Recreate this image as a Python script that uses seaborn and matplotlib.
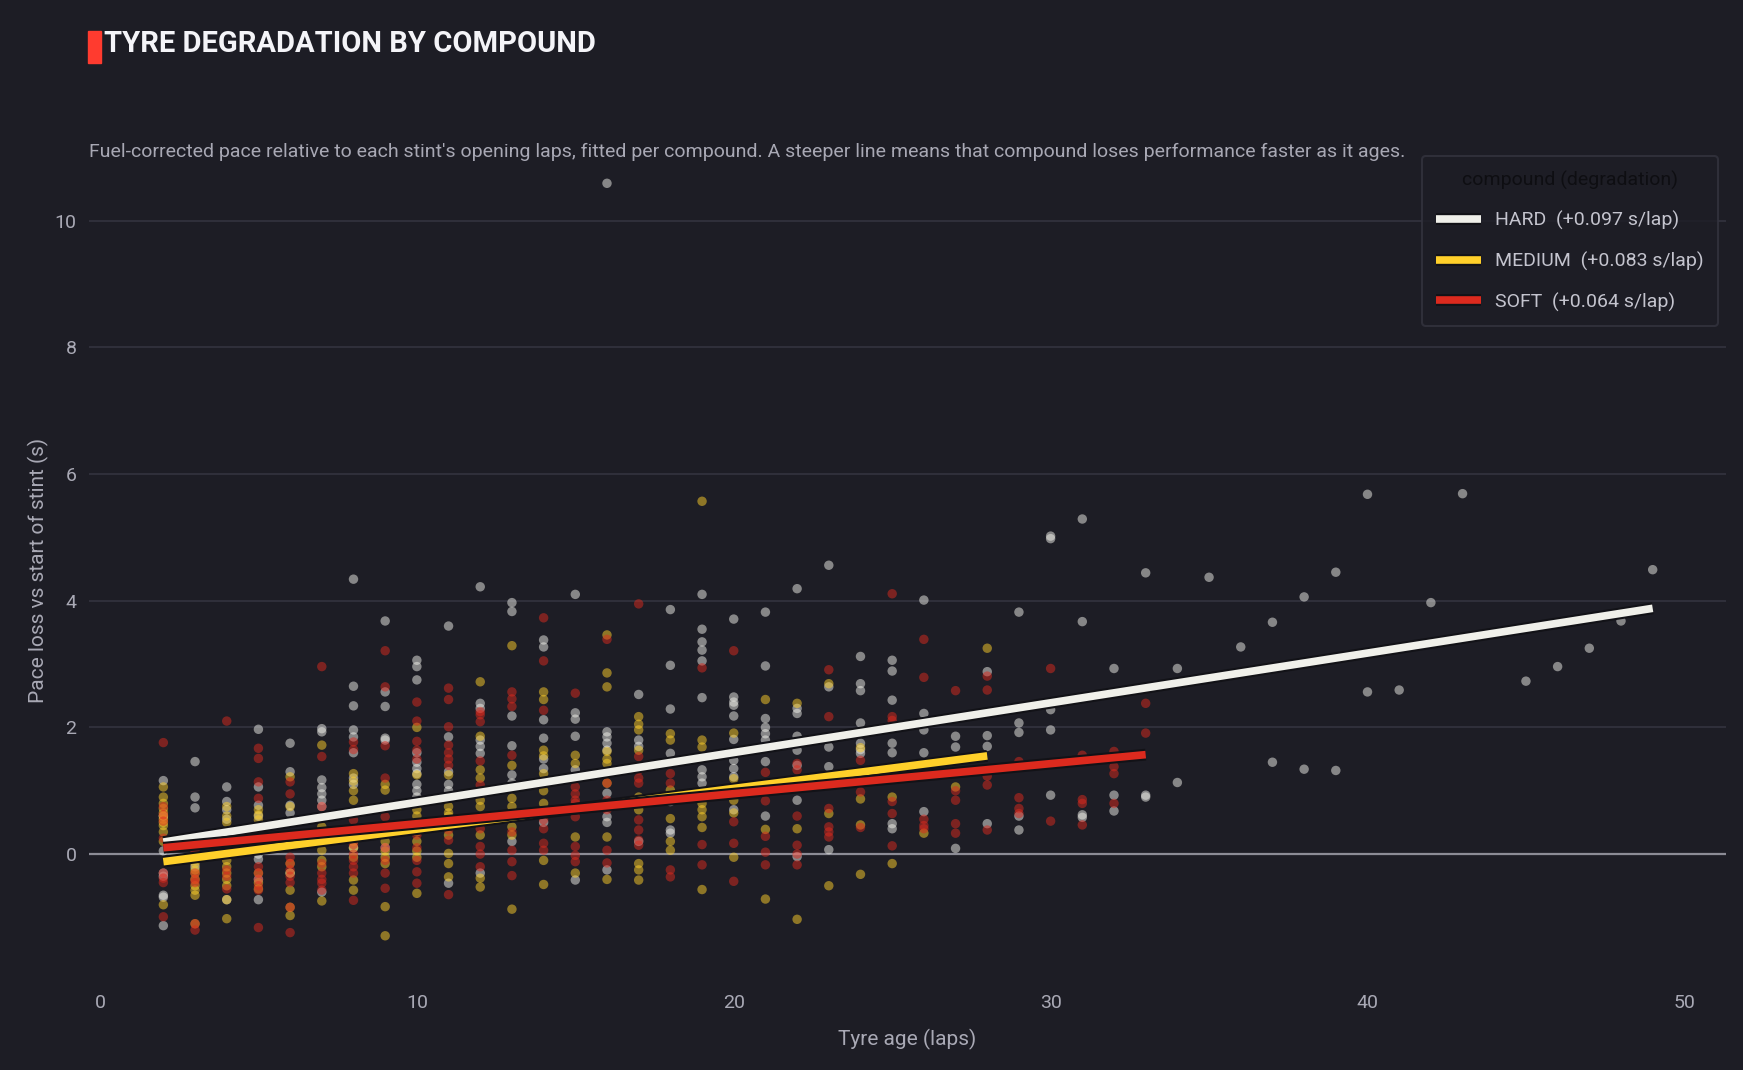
import pandas as pd
import matplotlib.pyplot as plt
import matplotlib.patheffects as pe
from matplotlib.patches import Rectangle
import seaborn as sns

# ---- data ----
compounds = ['HARD', 'MEDIUM', 'SOFT']
slope_labels = ['+0.097 s/lap', '+0.083 s/lap', '+0.064 s/lap']

hard_laps = [2, 3, 4, 5, 6, 7, 8, 9, 10, 11, 12, 13, 14, 15, 16, 17, 18, 19, 20, 21,
             22, 23, 24, 25, 26, 27, 28, 29, 30, 31, 32, 33, 34, 35, 36, 37, 38, 39,
             40, 41, 42, 43, 45, 46, 47, 48, 49]
hard_pace = [
    [1.16, 0.6, 0.05, -0.3, -0.35, -0.65, -0.68, -1.13],
    [1.46, 0.9, 0.73, -0.2],
    [1.06, 0.83, 0.7, 0.55, -0.72],
    [1.97, 1.06, 0.77, 0.6, 0.0, -0.08, -0.4, -0.72],
    [1.75, 1.3, 0.77, 0.65, -0.3],
    [1.98, 1.93, 1.17, 1.05, 0.95, 0.85, 0.75, -0.6],
    [4.34, 2.65, 2.34, 1.96, 1.85, 1.6, 1.2, 1.1, 0.1],
    [3.68, 2.56, 2.33, 1.83, 1.8, 0.1],
    [3.06, 2.96, 2.75, 1.6, 1.45, 1.35, 1.27, 1.1, 1.0, 0.9],
    [3.6, 1.85, 1.3, 1.1, 1.0, -0.46],
    [4.22, 2.38, 2.3, 1.8, 1.7, 1.59, -0.3],
    [3.97, 3.83, 2.18, 1.71, 1.25, 1.12, 0.2],
    [3.38, 3.27, 2.12, 1.83, 1.5, 1.35, 0.5],
    [4.1, 2.23, 2.13, 1.86, 1.33, -0.41],
    [10.59, 1.93, 1.85, 1.75, 1.64, 0.96, 0.59, 0.5, -0.25],
    [2.52, 1.8, 1.7, 0.2],
    [3.86, 2.98, 2.29, 1.59, 0.83, 0.38, 0.33],
    [4.1, 3.55, 3.35, 3.22, 3.05, 2.47, 1.33, 1.22, 1.12],
    [3.71, 2.48, 2.4, 2.35, 2.18, 1.81, 1.48, 1.35, 1.22, 0.7],
    [3.82, 2.97, 2.14, 2.0, 1.9, 1.8, 1.46, 0.6],
    [4.19, 2.3, 2.22, 1.86, 1.64, 1.4, 0.85, -0.04],
    [4.56, 2.64, 1.69, 1.38, 0.07],
    [3.12, 2.69, 2.58, 2.07, 1.75, 1.65, 1.59],
    [3.06, 2.89, 2.43, 1.75, 1.6, 0.48, 0.4],
    [4.01, 2.22, 2.1, 1.96, 1.6, 0.67],
    [1.86, 1.69, 0.09],
    [2.88, 1.87, 1.7, 0.48],
    [3.82, 2.07, 1.92, 0.6, 0.38],
    [5.02, 4.98, 2.28, 1.96, 0.93],
    [5.29, 3.67, 0.62, 0.58],
    [2.93, 0.93, 0.68],
    [4.44, 0.93, 0.9],
    [2.93, 1.13],
    [4.37],
    [3.27],
    [3.66, 1.45],
    [4.06, 1.34],
    [4.45, 1.32],
    [5.68, 2.56],
    [2.59],
    [3.97],
    [5.69],
    [2.73],
    [2.96],
    [3.25],
    [3.68],
    [4.49],
]

medium_laps = list(range(2, 29))
medium_pace = [
    [1.06, 0.9, 0.8, 0.72, 0.65, 0.6, 0.55, 0.5, 0.45, 0.35, 0.2, -0.8],
    [-0.1, -0.15, -0.25, -0.3, -0.4, -0.5, -0.57, -0.65, -1.1],
    [0.75, 0.6, 0.5, -0.1, -0.2, -0.3, -0.4, -0.5, -0.72, -1.02],
    [0.7, 0.62, 0.54, -0.3, -0.45, -0.55],
    [1.22, 0.75, 0.2, -0.15, -0.3, -0.57, -0.84, -0.97],
    [1.72, 0.43, 0.06, -0.1, -0.2, -0.74],
    [1.27, 1.15, 1.0, 0.85, 0.2, 0.1, -0.05, -0.41, -0.57],
    [1.1, 1.01, 0.2, 0.05, -0.05, -0.15, -0.83, -1.29],
    [2.0, 1.25, 0.7, 0.6, 0.35, 0.2, 0.05, -0.05, -0.62],
    [1.25, 0.75, 0.65, 0.6, 0.3, 0.01, -0.15, -0.36],
    [2.72, 1.86, 1.33, 1.2, 0.85, 0.75, 0.3, -0.38, -0.52],
    [3.29, 1.4, 0.88, 0.75, 0.43, 0.3, -0.87],
    [2.56, 2.44, 1.64, 1.55, 1.27, 1.0, 0.8, -0.1, -0.48],
    [1.56, 1.43, 0.27, -0.3],
    [3.46, 2.86, 2.64, 1.62, 1.5, 1.43, 1.12, 0.8, 0.27, -0.4],
    [2.17, 2.05, 1.96, 1.64, 0.9, 0.8, 0.7, -0.15, -0.25, -0.41],
    [1.9, 1.8, 1.01, 0.56, 0.2, 0.06],
    [5.57, 1.8, 1.69, 0.8, 0.7, 0.59, 0.42, -0.56],
    [1.91, 1.19, 0.85, 0.65, -0.05],
    [2.44, 0.39, -0.71],
    [2.38, 0.4, -1.03],
    [2.69, 0.64, -0.5],
    [1.68, 0.87, 0.46, -0.32],
    [0.9, -0.15],
    [0.33],
    [1.06],
    [3.25],
]

soft_laps = list(range(2, 34))
soft_pace = [
    [1.76, 0.75, 0.62, 0.52, 0.25, -0.3, -0.38, -0.45, -0.99],
    [0.04, -0.3, -0.4, -0.45, -1.1, -1.2],
    [2.1, -0.25, -0.35, -0.55],
    [1.67, 1.51, 1.14, 0.88, -0.2, -0.3, -0.4, -0.5, -0.57, -1.16],
    [1.14, 0.95, -0.05, -0.15, -0.25, -0.35, -0.45, -0.84, -1.24],
    [2.96, 1.54, 0.75, -0.15, -0.3, -0.4, -0.46, -0.57],
    [1.77, 1.65, 0.54, 0.15, 0.0, -0.1, -0.2, -0.3, -0.73],
    [3.21, 2.64, 1.71, 1.2, 0.59, 0.1, -0.1, -0.3, -0.54],
    [2.4, 2.1, 1.78, 1.64, 1.5, 0.3, 0.1, -0.1, -0.28, -0.46],
    [2.62, 2.44, 2.01, 1.72, 1.6, 1.5, 1.4, 0.38, 0.22, -0.64],
    [2.25, 2.2, 2.09, 1.47, 1.09, 0.54, 0.4, 0.12, 0.0, -0.2],
    [2.56, 2.45, 2.33, 1.56, 0.35, 0.06, -0.12, -0.34],
    [3.73, 3.05, 2.27, 0.54, 0.4, 0.17, 0.06],
    [2.54, 1.06, 0.95, 0.85, 0.8, 0.59, 0.12, -0.02, -0.12],
    [3.39, 1.12, 0.85, 0.7, 0.06, -0.14],
    [3.95, 1.54, 1.33, 1.2, 1.12, 0.54, 0.38, 0.22, 0.14],
    [1.27, 1.12, -0.25, -0.36],
    [2.94, 0.15, -0.17],
    [3.21, 0.51, 0.17, -0.43],
    [1.29, 0.84, 0.28, 0.03, -0.17],
    [1.43, 1.33, 0.6, 0.14, 0.0, -0.17],
    [2.91, 2.17, 0.72, 0.43, 0.35, 0.27],
    [1.48, 0.98, 0.42],
    [4.11, 2.17, 2.11, 0.83, 0.64, 0.13],
    [3.39, 2.79, 0.55, 0.45, 0.4],
    [2.58, 1.0, 0.85, 0.48, 0.33],
    [2.81, 2.59, 1.23, 1.09, 0.38],
    [1.46, 0.89, 0.72, 0.64],
    [2.93, 0.52],
    [1.56, 0.86, 0.8, 0.46],
    [1.62, 1.38, 1.27, 0.8],
    [2.38, 1.91],
]

# fitted lines (start / end) per compound
fit_x0 = [2, 2, 2]
fit_x1 = [49, 28, 33]
fit_y0 = [0.19, -0.12, 0.10]
fit_y1 = [3.88, 1.55, 1.57]

# ---- build long table ----
rows = []
for comp, laps, pace in [('HARD', hard_laps, hard_pace),
                         ('MEDIUM', medium_laps, medium_pace),
                         ('SOFT', soft_laps, soft_pace)]:
    for lap, vals in zip(laps, pace):
        for v in vals:
            rows.append((comp, lap, v))
df = pd.DataFrame(rows, columns=['compound', 'lap', 'pace'])

# ---- style ----
bg = '#1d1d25'
grid_c = '#2f2f3a'
txt_c = '#a9a9b5'
colors = {'HARD': '#f0f0ea', 'MEDIUM': '#ffd02a', 'SOFT': '#dc2a1e'}

sns.set_theme(style='dark')
plt.rcParams['font.family'] = ['Roboto', 'DejaVu Sans']
plt.rcParams['axes.unicode_minus'] = False

fig = plt.figure(figsize=(17.43, 10.70), dpi=100)
fig.patch.set_facecolor(bg)
ax = fig.add_axes([0.051, 0.084, 0.939, 0.766])
ax.set_facecolor(bg)

# scatter points
sns.scatterplot(data=df, x='lap', y='pace', hue='compound', hue_order=compounds,
                palette=colors, s=46, alpha=0.5, linewidth=0, legend=False, ax=ax, zorder=3)

# fitted lines with dark outline
for i, comp in enumerate(compounds):
    sns.lineplot(x=[fit_x0[i], fit_x1[i]], y=[fit_y0[i], fit_y1[i]], ax=ax,
                 color=colors[comp], lw=5.5, solid_capstyle='butt', zorder=5,
                 label=f'{comp}  ({slope_labels[i]})',
                 path_effects=[pe.Stroke(linewidth=8.5, foreground='#121217'), pe.Normal()])

# axes
ax.set_xlim(-0.35, 51.3)
ax.set_ylim(-1.99, 10.95)
ax.set_xticks([0, 10, 20, 30, 40, 50])
ax.set_yticks([0, 2, 4, 6, 8, 10])
ax.tick_params(length=0, colors=txt_c, labelsize=14)
ax.tick_params(axis='x', pad=10)
ax.tick_params(axis='y', pad=9)
for s in ax.spines.values():
    s.set_visible(False)
ax.grid(axis='y', color=grid_c, lw=1.5)
ax.grid(axis='x', visible=False)
ax.axhline(0, color='#8c8c96', lw=1.6, zorder=2)
ax.set_xlabel('Tyre age (laps)', color=txt_c, fontsize=15, labelpad=12)
ax.set_ylabel('Pace loss vs start of stint (s)', color=txt_c, fontsize=15, labelpad=4)

# legend
leg = ax.legend(loc='upper right', bbox_to_anchor=(1718 / 1743, 1 - 156 / 1070),
                bbox_transform=fig.transFigure, title='compound (degradation)',
                fontsize=14, title_fontsize=14, handlelength=2.3, labelspacing=1.1,
                borderpad=0.75, handletextpad=0.7, borderaxespad=0,
                frameon=True, fancybox=True)
leg.get_frame().set_facecolor(bg)
leg.get_frame().set_edgecolor('#34343f')
leg.get_frame().set_linewidth(1.5)
leg.get_title().set_color('#0e0e12')
for t in leg.get_texts():
    t.set_color('#c4c4ce')

# title, accent bar, subtitle
fig.patches.append(Rectangle((88 / 1743, 1 - 63 / 1070), 13 / 1743, 32 / 1070,
                             transform=fig.transFigure, color='#ff3b2f'))
fig.text(104 / 1743, 1 - 52 / 1070, 'TYRE DEGRADATION BY COMPOUND', color='#f4f4f8',
         fontsize=21, fontweight='bold', va='baseline', ha='left')
fig.text(89 / 1743, 1 - 157 / 1070,
         "Fuel-corrected pace relative to each stint's opening laps, fitted per compound. "
         "A steeper line means that compound loses performance faster as it ages.",
         color='#a8a8b4', fontsize=14, va='baseline', ha='left')

fig.savefig('out.png', dpi=100, facecolor=bg)
